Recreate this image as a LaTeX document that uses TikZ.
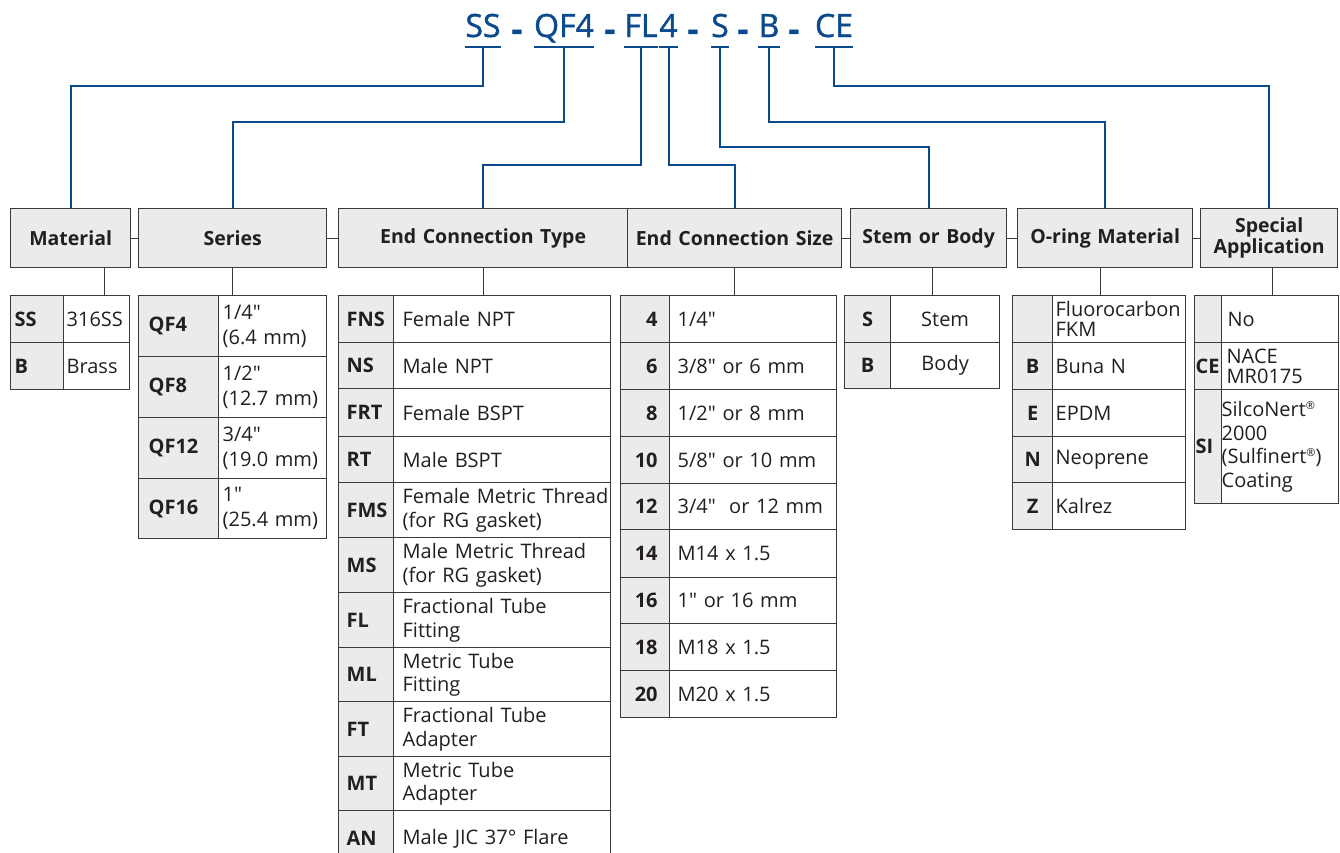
\documentclass[tikz,border=0pt]{standalone}
\usepackage{fontspec}
\setmainfont{Open Sans}[Ligatures=TeXOff]
\newfontfamily\titlefont{Open Sans}[Ligatures=TeXOff,FakeBold=1.2]
\usetikzlibrary{calc}
\definecolor{tblue}{HTML}{0B4A8C}
\definecolor{hgray}{HTML}{EBEBED}
\definecolor{bordc}{HTML}{3A3A3A}
\definecolor{txtc}{HTML}{231F20}
\newcommand\tcell[8]{%
  \pgfmathsetmacro\cellw{#4-#2-2*#7}%
  \pgfmathsetmacro\cellh{#5-#3}%
  \node[cellbase,#6,anchor=north west,inner xsep=#7pt,text width=\cellw pt,minimum height=\cellh pt] (#1) at (#2,#3) {#8};%
}
\newcommand\regmark{\raisebox{7pt}{\fontsize{11}{11}\selectfont ®}}
\begin{document}
\begin{tikzpicture}[x=1pt,y=-1pt,
  cellbase/.style={draw=bordc,line width=1.3pt,inner ysep=0pt,text=txtc,fill=white,
    font=\fontsize{20}{23.5}\selectfont,align=left},
  codec/.style={fill=hgray,font=\fontsize{20}{23.5}\selectfont\bfseries},
  hdr/.style={fill=hgray,font=\fontsize{19.5}{21}\selectfont\bfseries,align=center},
  ttl/.style={text=tblue,font=\fontsize{32}{32}\titlefont,inner xsep=0pt,inner ysep=10pt,
    text depth=0pt,anchor=base},
  tdash/.style={text=tblue,font=\fontsize{34}{34}\titlefont\bfseries,inner sep=0pt,anchor=base},
  blueln/.style={draw=tblue,line width=2pt},
  grayln/.style={draw=bordc,line width=1.3pt}]
\lefthyphenmin=64
\useasboundingbox (0,0) rectangle (1340,852);
\clip (0,0) rectangle (1340,852);
\fill[white] (0,0) rectangle (1340,852);

% ---- title ----
\node[ttl] (tSS) at (483,37) {SS};
\node[tdash] (d1) at (517,41) {-};
\node[ttl] (tQF) at (564,37) {QF4};
\node[tdash] (d2) at (610,41) {-};
\node[ttl] (tFL) at (641,37) {FL};
\node[ttl] (t4) at (668.5,37) {4};
\node[tdash] (d3) at (693,41) {-};
\node[ttl] (tS) at (720,37) {S};
\node[tdash] (d4) at (743,41) {-};
\node[ttl] (tB) at (769,37) {B};
\node[tdash] (d5) at (794,41) {-};
\node[ttl] (tCE) at (834,37) {CE};

\foreach \n in {tSS,tQF,tFL,t4,tS,tB,tCE}{
  \draw[blueln] (\n.south west) -- (\n.south east);
}

% ---- headers ----
\tcell{matH}{10}{208}{130}{267}{hdr}{2}{Material}
\tcell{serH}{138}{208}{326}{267}{hdr}{2}{Series}
\tcell{ectH}{338}{208}{627}{267}{hdr}{2}{End Connection Type}
\tcell{ecsH}{627}{208}{841}{267}{hdr}{2}{\mbox{End Connection Size}}
\tcell{stemH}{850}{208}{1006}{267}{hdr}{2}{\mbox{Stem or Body}}
\tcell{orH}{1017}{208}{1192}{267}{hdr}{2}{\mbox{O-ring Material}}
\tcell{spH}{1200}{208}{1337}{267}{hdr}{2}{Special\\Application}

\draw[grayln] (matH.east) -- (serH.west);
\draw[grayln] (serH.east) -- (ectH.west);
\draw[grayln] (ecsH.east) -- (stemH.west);
\draw[grayln] (stemH.east) -- (orH.west);
\draw[grayln] (orH.east) -- (spH.west);

% ---- blue connectors ----
\coordinate (yA) at (0,86);
\coordinate (yB) at (0,122);
\coordinate (yC) at (0,165);
\coordinate (yD) at (0,147);
\draw[blueln] (tSS.south) -- (tSS.south |- yA) -| (matH.north);
\draw[blueln] (tQF.south) -- (tQF.south |- yB) -| (serH.north);
\draw[blueln] (tFL.south) -- (tFL.south |- yC) -| (ectH.north);
\draw[blueln] (t4.south) -- (t4.south |- yC) -| (ecsH.north);
\draw[blueln] (tS.south) -- (tS.south |- yD) -| (stemH.north);
\draw[blueln] (tB.south) -- (tB.south |- yB) -| (orH.north);
\draw[blueln] (tCE.south) -- (tCE.south |- yA) -| (spH.north);

% ---- Material table ----
\tcell{m1c}{10}{295}{63}{342}{codec}{4}{SS}
\tcell{m1d}{63}{295}{129}{342}{}{3}{316SS}
\tcell{m2c}{10}{342}{63}{389}{codec}{4}{B}
\tcell{m2d}{63}{342}{129}{389}{}{3}{Brass}

% ---- Series table ----
\tcell{s1c}{138}{295}{218}{356}{codec}{10}{QF4}
\tcell{s1d}{218}{295}{326}{356}{font=\fontsize{20}{25}\selectfont}{4}{1/4"\\\mbox{(6.4 mm)}}
\tcell{s2c}{138}{356}{218}{417}{codec}{10}{QF8}
\tcell{s2d}{218}{356}{326}{417}{font=\fontsize{20}{25}\selectfont}{4}{1/2"\\\mbox{(12.7 mm)}}
\tcell{s3c}{138}{417}{218}{478}{codec}{10}{QF12}
\tcell{s3d}{218}{417}{326}{478}{font=\fontsize{20}{25}\selectfont}{4}{3/4"\\\mbox{(19.0 mm)}}
\tcell{s4c}{138}{478}{218}{538}{codec}{10}{QF16}
\tcell{s4d}{218}{478}{326}{538}{font=\fontsize{20}{25}\selectfont}{4}{1"\\\mbox{(25.4 mm)}}

% ---- End Connection Type table ----
\tcell{e1c}{338}{295}{393}{342}{codec}{8}{FNS}
\tcell{e1d}{393}{295}{610}{342}{}{9}{\mbox{Female NPT}}
\tcell{e2c}{338}{342}{393}{388}{codec}{8}{NS}
\tcell{e2d}{393}{342}{610}{388}{}{9}{\mbox{Male NPT}}
\tcell{e3c}{338}{388}{393}{436}{codec}{8}{FRT}
\tcell{e3d}{393}{388}{610}{436}{}{9}{\mbox{Female BSPT}}
\tcell{e4c}{338}{436}{393}{482}{codec}{8}{RT}
\tcell{e4d}{393}{436}{610}{482}{}{9}{\mbox{Male BSPT}}
\tcell{e5c}{338}{482}{393}{537}{codec}{8}{FMS}
\tcell{e5d}{393}{482}{610}{537}{}{9}{\mbox{Female Metric Thread}\\\mbox{(for RG gasket)}}
\tcell{e6c}{338}{537}{393}{592}{codec}{8}{MS}
\tcell{e6d}{393}{537}{610}{592}{}{9}{\mbox{Male Metric Thread}\\\mbox{(for RG gasket)}}
\tcell{e7c}{338}{592}{393}{647}{codec}{8}{FL}
\tcell{e7d}{393}{592}{610}{647}{}{9}{\mbox{Fractional Tube}\\Fitting}
\tcell{e8c}{338}{647}{393}{701}{codec}{8}{ML}
\tcell{e8d}{393}{647}{610}{701}{}{9}{\mbox{Metric Tube}\\Fitting}
\tcell{e9c}{338}{701}{393}{756}{codec}{8}{FT}
\tcell{e9d}{393}{701}{610}{756}{}{9}{\mbox{Fractional Tube}\\Adapter}
\tcell{e10c}{338}{756}{393}{810}{codec}{8}{MT}
\tcell{e10d}{393}{756}{610}{810}{}{9}{\mbox{Metric Tube}\\Adapter}
\tcell{e11c}{338}{810}{393}{866}{codec}{8}{AN}
\tcell{e11d}{393}{810}{610}{866}{}{9}{\mbox{Male JIC 37° Flare}}

% ---- End Connection Size table ----
\tcell{z1c}{620}{295}{669}{342}{codec,align=right}{12}{4}
\tcell{z1d}{669}{295}{836}{342}{}{8}{1/4"}
\tcell{z2c}{620}{342}{669}{389}{codec,align=right}{12}{6}
\tcell{z2d}{669}{342}{836}{389}{}{8}{\mbox{3/8" or 6 mm}}
\tcell{z3c}{620}{389}{669}{436}{codec,align=right}{12}{8}
\tcell{z3d}{669}{389}{836}{436}{}{8}{\mbox{1/2" or 8 mm}}
\tcell{z4c}{620}{436}{669}{483}{codec,align=right}{12}{10}
\tcell{z4d}{669}{436}{836}{483}{}{8}{\mbox{5/8" or 10 mm}}
\tcell{z5c}{620}{483}{669}{529}{codec,align=right}{12}{12}
\tcell{z5d}{669}{483}{836}{529}{}{8}{\mbox{3/4"\ \ or 12 mm}}
\tcell{z6c}{620}{529}{669}{577}{codec,align=right}{12}{14}
\tcell{z6d}{669}{529}{836}{577}{}{8}{\mbox{M14 x 1.5}}
\tcell{z7c}{620}{577}{669}{623}{codec,align=right}{12}{16}
\tcell{z7d}{669}{577}{836}{623}{}{8}{\mbox{1" or 16 mm}}
\tcell{z8c}{620}{623}{669}{670}{codec,align=right}{12}{18}
\tcell{z8d}{669}{623}{836}{670}{}{8}{\mbox{M18 x 1.5}}
\tcell{z9c}{620}{670}{669}{717}{codec,align=right}{12}{20}
\tcell{z9d}{669}{670}{836}{717}{}{8}{\mbox{M20 x 1.5}}

% ---- Stem or Body table ----
\tcell{b1c}{844}{295}{890}{342}{codec,align=center}{2}{S}
\tcell{b1d}{890}{295}{999}{342}{align=center}{2}{Stem}
\tcell{b2c}{844}{342}{890}{388}{codec,align=center}{2}{B}
\tcell{b2d}{890}{342}{999}{388}{align=center}{2}{Body}

% ---- O-ring table ----
\tcell{o1c}{1012}{295}{1052}{342}{codec,align=center}{2}{}
\tcell{o1d}{1052}{295}{1185}{342}{font=\fontsize{20}{20}\selectfont}{3}{Fluorocarbon\\FKM}
\tcell{o2c}{1012}{342}{1052}{389}{codec,align=center}{2}{B}
\tcell{o2d}{1052}{342}{1185}{389}{}{3}{\mbox{Buna N}}
\tcell{o3c}{1012}{389}{1052}{436}{codec,align=center}{2}{E}
\tcell{o3d}{1052}{389}{1185}{436}{}{3}{EPDM}
\tcell{o4c}{1012}{436}{1052}{482}{codec,align=center}{2}{N}
\tcell{o4d}{1052}{436}{1185}{482}{}{3}{Neoprene}
\tcell{o5c}{1012}{482}{1052}{529}{codec,align=center}{2}{Z}
\tcell{o5d}{1052}{482}{1185}{529}{}{3}{Kalrez}

% ---- Special Application table ----
\tcell{p1c}{1194}{295}{1221}{342}{codec}{1}{}
\tcell{p1d}{1221}{295}{1338}{342}{}{6}{No}
\tcell{p2c}{1194}{342}{1221}{389}{codec}{1}{CE}
\tcell{p2d}{1221}{342}{1338}{389}{font=\fontsize{20}{20}\selectfont}{5}{NACE\\MR0175}
\tcell{p3c}{1194}{389}{1221}{503}{codec}{1}{SI}
\tcell{p3d}{1221}{389}{1338}{503}{}{0}{SilcoNert\regmark\\2000\\(Sulfinert\regmark)\\Coating}

% ---- gray links header -> table ----
\draw[grayln] ([xshift=34pt]matH.south) -- ([xshift=34pt]matH.south |- m1d.north);
\draw[grayln] (serH.south) -- (serH.south |- s1c.north);
\draw[grayln] (ectH.south) -- (ectH.south |- e1d.north);
\draw[grayln] (ecsH.south) -- (ecsH.south |- z1d.north);
\draw[grayln] ([xshift=4pt]stemH.south) -- ([xshift=4pt]stemH.south |- b1d.north);
\draw[grayln] ([xshift=-5pt]orH.south) -- ([xshift=-5pt]orH.south |- o1d.north);
\draw[grayln] ([xshift=3pt]spH.south) -- ([xshift=3pt]spH.south |- p1d.north);
\end{tikzpicture}
\end{document}
